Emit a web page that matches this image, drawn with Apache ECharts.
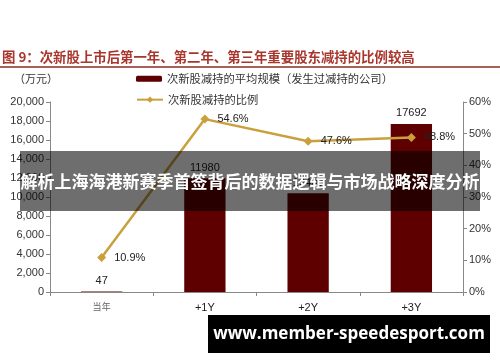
<!DOCTYPE html>
<html><head><meta charset="utf-8">
<script src="https://cdn.jsdelivr.net/npm/echarts@6/dist/echarts.min.js"></script>
<style>html,body{margin:0;padding:0;background:#fff}#c{width:500px;height:362px}</style>
</head><body><div id="c"></div>
<script>
const categories = ['当年', '+1Y', '+2Y', '+3Y'];
const avgScale = [47, 11980, 10400, 17692];
const ratio = [10.9, 54.6, 47.6, 48.8];
const barName = '次新股减持的平均规模（发生过减持的公司）';
const lineName = '次新股减持的比例';
const titleText = '图 9：次新股上市后第一年、第二年、第三年重要股东减持的比例较高';
const unitText = '（万元）';
const bannerText = '解析上海海港新赛季首签背后的数据逻辑与市场战略深度分析';
const siteText = 'www.member-speedesport.com';

const cjk = '"Noto Sans CJK SC", sans-serif';
const latin = '"Liberation Sans", Arial, sans-serif';
const chart = echarts.init(document.getElementById('c'));
chart.setOption({
  animation: false,
  grid: { left: 50, right: 37, top: 102, bottom: 70 },
  legend: [
    { data: [barName], left: 136, top: 73, itemWidth: 26, itemHeight: 6, padding: 0,
      textStyle: { fontFamily: cjk, fontSize: 11.3, color: '#333' } },
    { data: [lineName], left: 136, top: 94, itemWidth: 26, itemHeight: 8, padding: 0,
      textStyle: { fontFamily: cjk, fontSize: 11.3, color: '#333' } }
  ],
  xAxis: {
    type: 'category', data: categories,
    axisLine: { lineStyle: { color: '#888', width: 1 } },
    axisTick: { show: true, length: 4, lineStyle: { color: '#888' } },
    axisLabel: { margin: 10, fontFamily: latin, fontSize: 11, color: '#222',
      formatter: v => v === '当年' ? '{s|' + v + '}' : v,
      rich: { s: { fontFamily: cjk, fontSize: 9, color: '#666' } } }
  },
  yAxis: [
    { type: 'value', min: 0, max: 20000, interval: 2000,
      axisLine: { show: true, lineStyle: { color: '#888' } },
      axisTick: { show: true, length: 4, lineStyle: { color: '#888' } },
      splitLine: { show: false },
      axisLabel: { fontFamily: latin, fontSize: 11, color: '#333', margin: 6,
        formatter: v => v.toLocaleString('en-US') } },
    { type: 'value', min: 0, max: 60, interval: 10, position: 'right',
      axisLine: { show: true, lineStyle: { color: '#888' } },
      axisTick: { show: true, length: 4, lineStyle: { color: '#888' } },
      splitLine: { show: false },
      axisLabel: { fontFamily: latin, fontSize: 11, color: '#333', margin: 6,
        formatter: v => v + '%' } }
  ],
  series: [
    { name: barName, type: 'bar', data: avgScale, barWidth: '40%', yAxisIndex: 0,
      itemStyle: { color: '#5e0000' },
      label: { show: true, position: 'top', distance: 5, fontFamily: latin, fontSize: 11, color: '#222' } },
    { name: lineName, type: 'line', data: ratio, yAxisIndex: 1,
      symbol: 'diamond', symbolSize: 9,
      lineStyle: { color: '#c9a03c', width: 2.5 },
      itemStyle: { color: '#c9a03c' },
      label: { show: true, position: 'right', distance: 8, fontFamily: latin, fontSize: 11, color: '#222',
        formatter: p => p.value.toFixed(1) + '%' } }
  ],
  graphic: [
    { type: 'text', left: 2, top: 50, style: { text: titleText, fontFamily: cjk, fontSize: 13.4, fontWeight: 'bold', fill: '#a8362c' } },
    { type: 'line', shape: { x1: 0, y1: 67, x2: 500, y2: 67 }, style: { stroke: '#8e2a24', lineWidth: 1.5 } },
    { type: 'text', left: 14, top: 73, style: { text: unitText, fontFamily: cjk, fontSize: 11, fill: '#333' } },
    { type: 'rect', z: 100, shape: { x: 20, y: 151, width: 460, height: 60 }, style: { fill: 'rgba(0,0,0,0.57)' } },
    { type: 'text', z: 101, x: 250, y: 182, style: { text: bannerText, fontFamily: cjk, fontSize: 17, fontWeight: 'bold', fill: '#fff', align: 'center', verticalAlign: 'middle' } },
    { type: 'rect', z: 100, shape: { x: 208, y: 315, width: 282, height: 38 }, style: { fill: '#000' } },
    { type: 'text', z: 101, x: 349, y: 334, style: { text: siteText, fontFamily: '"Open Sans", "DejaVu Sans", sans-serif', fontSize: 17, fontWeight: 'bold', fill: '#fff', align: 'center', verticalAlign: 'middle' } }
  ]
});
</script></body></html>
